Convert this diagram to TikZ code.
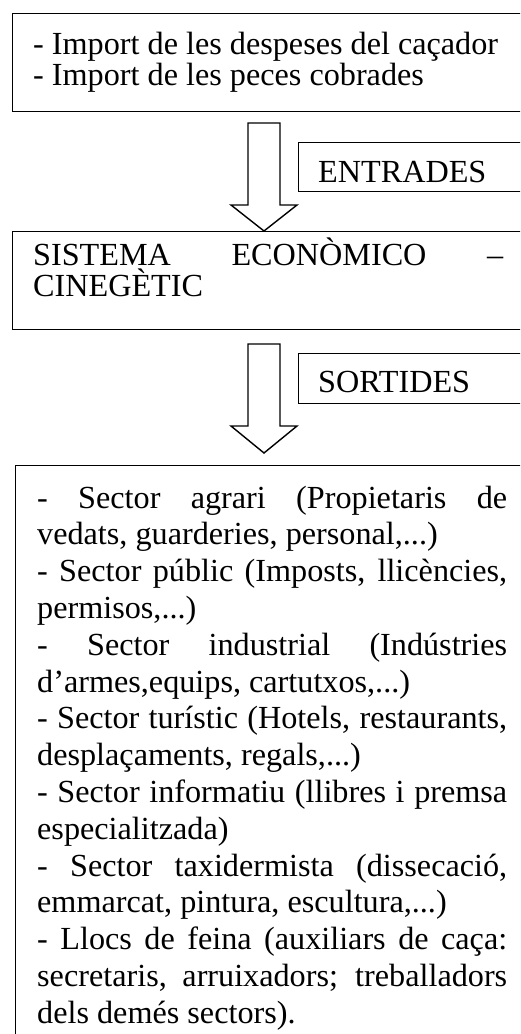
\documentclass[tikz,border=0pt]{standalone}
\usepackage{fontspec}
\setmainfont{Liberation Serif}
\newcommand{\jline}[1]{\makebox[470pt][s]{#1}}
\newcommand{\lline}[1]{\makebox[470pt][l]{#1}}
\begin{document}
\begin{tikzpicture}[x=1pt,y=-1pt,
  frame/.style={draw=black,line width=1.4pt,inner sep=0pt,anchor=north west},
  txt/.style={anchor=base west,inner sep=0pt,font=\fontsize{32.2}{36.8}\selectfont},
  blockarrow/.style={draw=black,line width=1.4pt,fill=white,line join=miter}]
\useasboundingbox (0,0) rectangle (520,1034);
\fill[white] (0,0) rectangle (520,1034);
\clip (0,0) rectangle (520,1034);
% boxes (cut by the page on the right / bottom)
\node[frame,minimum width=530pt,minimum height=98pt] (inbox) at (12,13) {};
\node[frame,minimum width=530pt,minimum height=49pt] (entr) at (298,142) {};
\node[frame,minimum width=530pt,minimum height=98pt] (sys) at (12,231) {};
\node[frame,minimum width=530pt,minimum height=50pt] (sort) at (298,353) {};
\node[frame,minimum width=530pt,minimum height=600pt] (outbox) at (15,465) {};
% block arrows
\draw[blockarrow] (248,123) -- (280,123) -- (280,205) -- (297,205) -- (264,231)
  -- (231,205) -- (248,205) -- cycle;
\draw[blockarrow] (248,344) -- (280,344) -- (280,426) -- (297,426) -- (264,453)
  -- (231,426) -- (248,426) -- cycle;
% texts
\node[txt] (t1) at (33,54) {- Import de les despeses del caçador};
\node[txt] (t2) at (33,85) {- Import de les peces cobrades};
\node[txt] (te) at (318,182) {ENTRADES};
\node[txt] (s1) at (33,265) {\jline{SISTEMA ECONÒMICO –}};
\node[txt] (s2) at (33,296) {CINEGÈTIC};
\node[txt] (ts) at (318,392) {SORTIDES};
\node[txt] (l1) at (37,508.0) {\jline{- Sector agrari (Propietaris de}};
\node[txt] (l2) at (37,544.8) {\lline{vedats, guarderies, personal,...)}};
\node[txt] (l3) at (37,581.6) {\jline{- Sector públic (Imposts, llicències,}};
\node[txt] (l4) at (37,618.4) {\lline{permisos,...)}};
\node[txt] (l5) at (37,655.2) {\jline{- Sector industrial (Indústries}};
\node[txt] (l6) at (37,692.0) {\lline{d’armes,equips, cartutxos,...)}};
\node[txt] (l7) at (37,728.8) {\jline{- Sector turístic (Hotels, restaurants,}};
\node[txt] (l8) at (37,765.6) {\lline{desplaçaments, regals,...)}};
\node[txt] (l9) at (37,802.4) {\jline{- Sector informatiu (llibres i premsa}};
\node[txt] (l10) at (37,839.2) {\lline{especialitzada)}};
\node[txt] (l11) at (37,876.0) {\jline{- Sector taxidermista (dissecació,}};
\node[txt] (l12) at (37,912.8) {\lline{emmarcat, pintura, escultura,...)}};
\node[txt] (l13) at (37,949.6) {\jline{- Llocs de feina (auxiliars de caça:}};
\node[txt] (l14) at (37,986.4) {\jline{secretaris, arruixadors; treballadors}};
\node[txt] (l15) at (37,1023.2) {\lline{dels demés sectors).}};
\end{tikzpicture}
\end{document}
